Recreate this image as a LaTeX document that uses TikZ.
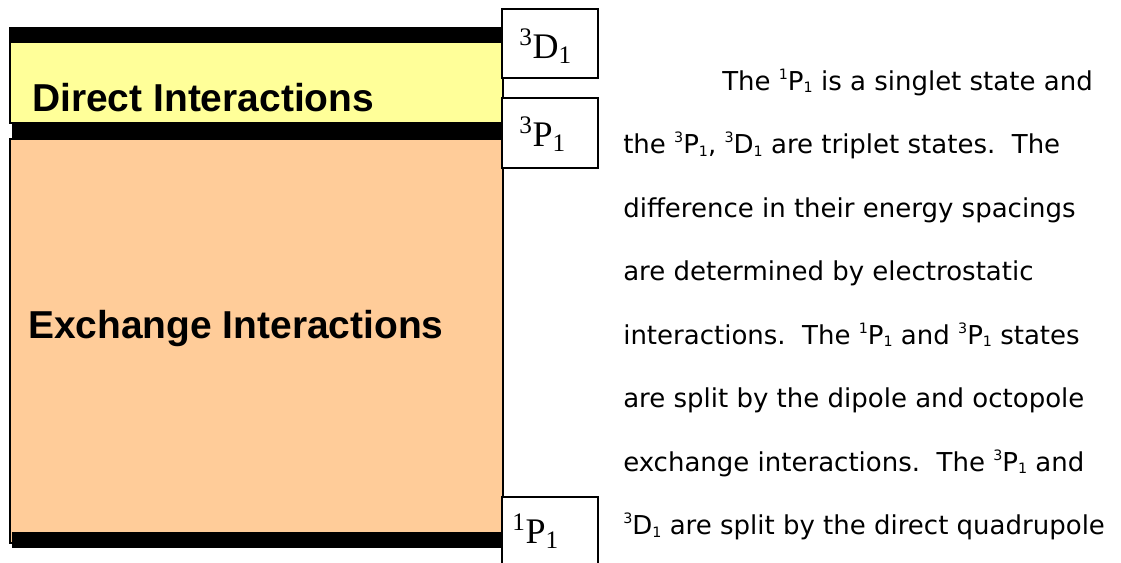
\documentclass[tikz,border=0pt]{standalone}
\usepackage{fontspec}
\setmainfont{Liberation Serif}
\newfontfamily\bodyfont{DejaVu Sans}
\newfontfamily\headfont{Liberation Sans}
\usepackage{xcolor}
\usetikzlibrary{positioning}

\definecolor{directyellow}{HTML}{FFFF99}
\definecolor{exchangeorange}{HTML}{FFCC99}

\newcommand{\term}[3]{\textsuperscript{#1}#2\textsubscript{#3}}
\newcommand{\smallterm}[3]{\raisebox{0.75ex}{\scalebox{0.55}{#1}}#2\raisebox{-0.2ex}{\scalebox{0.55}{#3}}}

\begin{document}
\begin{tikzpicture}[x=0.75pt, y=-0.75pt,
		bar/.style={fill=black, draw=none},
		panel/.style={draw=black, line width=1pt},
		statebox/.style={draw=black, line width=1pt, fill=white},
		statelabel/.style={anchor=base west, inner sep=0pt, font=\fontsize{27}{31}\selectfont},
		headlabel/.style={anchor=base west, inner sep=0pt, font=\headfont\bfseries\fontsize{29.2}{34}\selectfont},
		textline/.style={anchor=base west, inner sep=0pt, font=\bodyfont\fontsize{19.5}{24}\selectfont}]
		\useasboundingbox (0,0) rectangle (1121,562);
		\clip (0,0) rectangle (1121,562);
		
		% Interaction panels
		\filldraw[panel, fill=directyellow] (10,28) rectangle (503,123);
		\filldraw[panel, fill=exchangeorange] (10,139) rectangle (503,543);
		
		% Level bars
		\fill[bar] (10,28) rectangle (502,43);
		\fill[bar] (12,123) rectangle (502,139);
		\fill[bar] (12,532) rectangle (503,548);
		
		% Panel titles
		\node[headlabel] (direct) at (32,111) {Direct Interactions};
		\node[headlabel] (exchange) at (28,338) {Exchange Interactions};
		
		% State boxes
		\draw[statebox] (502,9) rectangle (598,78);
		\draw[statebox] (502,98) rectangle (598,168);
		\draw[statebox] (502,580) -- (502,497) -- (598,497) -- (598,580);
		
		\node[statelabel] (D1) at (519,58) {\term{3}{D}{1}};
		\node[statelabel] (P3) at (519,146) {\term{3}{P}{1}};
		\node[statelabel] (P1) at (512,543) {\term{1}{P}{1}};
		
		% Text
		\node[textline] (t1) at (722,90) {The \smallterm{1}{P}{1} is a singlet state and};
		\node[textline] (t2) at (623,153.5) {the \smallterm{3}{P}{1}, \smallterm{3}{D}{1} are triplet states.\ \ The};
		\node[textline] (t3) at (623,217) {difference in their energy spacings};
		\node[textline] (t4) at (623,280.5) {are determined by electrostatic};
		\node[textline] (t5) at (623,344) {interactions.\ \ The \smallterm{1}{P}{1} and \smallterm{3}{P}{1} states};
		\node[textline] (t6) at (623,407.5) {are split by the dipole and octopole};
		\node[textline] (t7) at (623,471) {exchange interactions.\ \ The \smallterm{3}{P}{1} and};
		\node[textline] (t8) at (623,534.5) {\smallterm{3}{D}{1} are split by the direct quadrupole};
	\end{tikzpicture}
\end{document}
